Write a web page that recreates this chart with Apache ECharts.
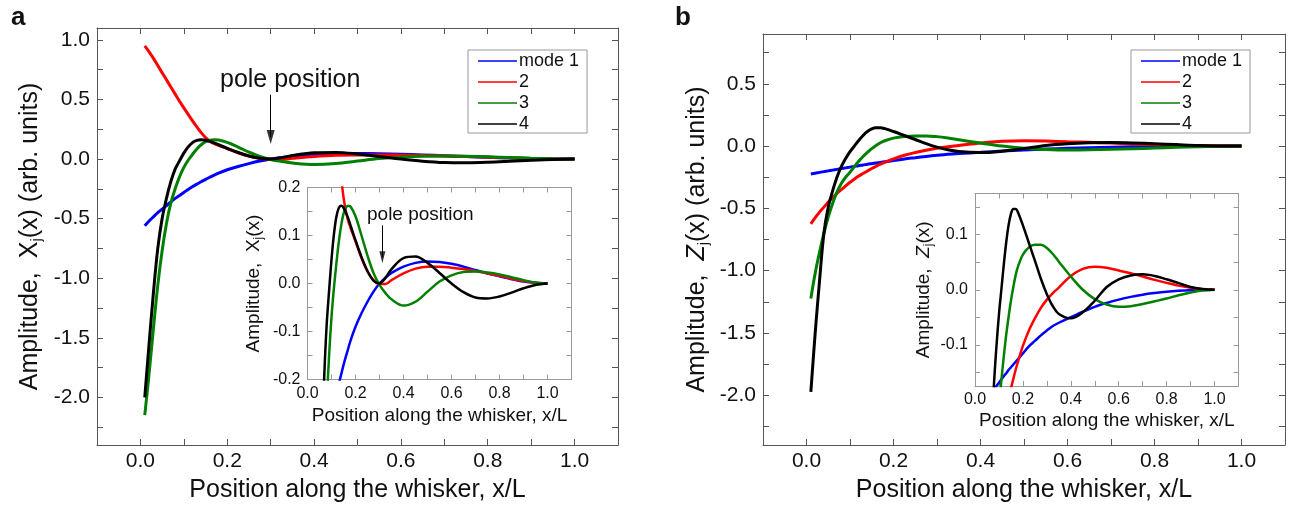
<!DOCTYPE html>
<html>
<head>
<meta charset="utf-8">
<script src="https://cdn.jsdelivr.net/npm/echarts@6/dist/echarts.min.js"></script>
<style>
html, body { margin: 0; padding: 0; background: #fff; }
#chart { width: 1290px; height: 508px; }
</style>
</head>
<body>
<div id="chart"></div>
<script>
// position along the whisker, x/L
var posX = [0.01, 0.02, 0.03, 0.04, 0.05, 0.06, 0.07, 0.08, 0.09, 0.10, 0.11, 0.12, 0.13, 0.14, 0.15, 0.16, 0.17, 0.18,
	0.20, 0.225, 0.25, 0.275, 0.30, 0.325, 0.35, 0.40, 0.45, 0.50, 0.55, 0.60, 0.65, 0.70, 0.75, 0.80, 0.85, 0.90, 0.95, 1.00];

// panel a : X_j(x)
var ampX1 = [-0.56, -0.52, -0.485, -0.45, -0.42, -0.39, -0.36, -0.33, -0.305, -0.28, -0.255, -0.232, -0.21, -0.19, -0.17, -0.152, -0.135, -0.118,
	-0.09, -0.062, -0.038, -0.017, 0, 0.012, 0.022, 0.035, 0.043, 0.046, 0.045, 0.041, 0.035, 0.028, 0.021, 0.015, 0.009, 0.004, 0.001, 0];
var ampX2 = [0.95, 0.9, 0.845, 0.785, 0.725, 0.665, 0.605, 0.545, 0.485, 0.43, 0.375, 0.32, 0.27, 0.222, 0.18, 0.15, 0.13, 0.115,
	0.088, 0.053, 0.025, 0.007, -0.001, -0.001, 0.007, 0.021, 0.031, 0.035, 0.035, 0.033, 0.03, 0.026, 0.021, 0.016, 0.01, 0.005, 0.0015, 0];
var ampX3 = [-2.15, -1.8, -1.42, -1.06, -0.77, -0.54, -0.37, -0.25, -0.15, -0.07, -0.01, 0.04, 0.085, 0.12, 0.145, 0.158, 0.162, 0.16,
	0.14, 0.1, 0.058, 0.022, -0.003, -0.02, -0.033, -0.046, -0.038, -0.017, 0.004, 0.017, 0.024, 0.025, 0.023, 0.019, 0.013, 0.007, 0.002, 0];
var ampX4 = [-2.0, -1.55, -1.12, -0.75, -0.5, -0.33, -0.19, -0.085, -0.015, 0.05, 0.102, 0.138, 0.157, 0.162, 0.158, 0.148, 0.135, 0.12,
	0.09, 0.055, 0.026, 0.006, 0.0, 0.012, 0.03, 0.053, 0.056, 0.043, 0.022, 0.0, -0.018, -0.029, -0.031, -0.027, -0.019, -0.01, -0.003, 0];

// panel b : Z_j(x)
var ampZ1 = [-0.224, -0.218, -0.211, -0.205, -0.199, -0.193, -0.187, -0.181, -0.175, -0.169, -0.163, -0.157, -0.152, -0.146, -0.141, -0.136, -0.131, -0.126,
	-0.116, -0.103, -0.093, -0.083, -0.074, -0.066, -0.06, -0.05, -0.04, -0.031, -0.024, -0.018, -0.013, -0.009, -0.006, -0.0035, -0.0018, -0.0007, -0.0002, 0];
var ampZ2 = [-0.624, -0.575, -0.53, -0.49, -0.45, -0.415, -0.38, -0.35, -0.32, -0.29, -0.265, -0.24, -0.22, -0.2, -0.18, -0.162, -0.145, -0.13,
	-0.102, -0.074, -0.052, -0.033, -0.018, -0.006, 0.004, 0.025, 0.038, 0.042, 0.04, 0.035, 0.03, 0.024, 0.018, 0.0125, 0.0075, 0.0035, 0.001, 0];
var ampZ3 = [-1.224, -1.02, -0.85, -0.7, -0.57, -0.46, -0.37, -0.3, -0.25, -0.21, -0.165, -0.122, -0.083, -0.05, -0.02, 0.005, 0.027, 0.043,
	0.064, 0.077, 0.082, 0.082, 0.076, 0.065, 0.051, 0.024, 0.0, -0.017, -0.027, -0.031, -0.03, -0.026, -0.021, -0.016, -0.01, -0.005, -0.0015, 0];
var ampZ4 = [-1.973, -1.5, -1.08, -0.7, -0.49, -0.36, -0.25, -0.165, -0.1, -0.045, 0.0, 0.045, 0.085, 0.117, 0.138, 0.147, 0.147, 0.14,
	0.117, 0.085, 0.053, 0.02, -0.008, -0.03, -0.044, -0.052, -0.041, -0.02, 0.005, 0.019, 0.026, 0.028, 0.025, 0.019, 0.012, 0.005, 0.0015, 0];

var modeNames = ['mode 1', '2', '3', '4'];
var modeColors = ['#0000ff', '#ff0000', '#008000', '#000000'];

// ticks and tick labels
var tickX = [0, 0.1, 0.2, 0.3, 0.4, 0.5, 0.6, 0.7, 0.8, 0.9, 1.0];
var labelX = [0, 0.2, 0.4, 0.6, 0.8, 1.0];
var tickYa = [-2.25, -2, -1.75, -1.5, -1.25, -1, -0.75, -0.5, -0.25, 0, 0.25, 0.5, 0.75, 1.0];
var labelYa = [-2.0, -1.5, -1.0, -0.5, 0, 0.5, 1.0];
var tickYb = [-2.25, -2, -1.75, -1.5, -1.25, -1, -0.75, -0.5, -0.25, 0, 0.25, 0.5, 0.75];
var labelYb = [-2.0, -1.5, -1.0, -0.5, 0, 0.5];
var tickInsetY = [-0.15, -0.1, -0.05, 0, 0.05, 0.1, 0.15];
var labelInsetYa = [-0.2, -0.1, 0, 0.1, 0.2];
var labelInsetYb = [-0.1, 0, 0.1];

var FONT = '"Liberation Sans", Arial, sans-serif';

function fmt(v) { return v.toFixed(1); }

function xPair(grid, min, max, fs, len, col, name, nameFs, nameGap) {
	var base = {
		type: 'value', gridIndex: grid, min: min, max: max,
		splitLine: { show: false },
		axisLine: { show: true, onZero: false, lineStyle: { color: col, width: 1 } },
		axisTick: { show: true, inside: true, length: len, customValues: tickX, lineStyle: { color: col } }
	};
	var bottom = echarts.util.merge({
		position: 'bottom',
		axisLabel: { show: true, customValues: labelX, formatter: fmt, fontSize: fs, fontFamily: FONT, color: '#111', margin: 6 },
		name: name, nameLocation: 'middle', nameGap: nameGap,
		nameTextStyle: { fontSize: nameFs, fontFamily: FONT, color: '#111' }
	}, base, true);
	var top = echarts.util.merge({ position: 'top', axisLabel: { show: false } }, base, true);
	return [bottom, top];
}

function yPair(grid, min, max, ticks, labels, fs, len, col, name, rich, nameFs, nameGap) {
	var base = {
		type: 'value', gridIndex: grid, min: min, max: max,
		splitLine: { show: false },
		axisLine: { show: true, onZero: false, lineStyle: { color: col, width: 1 } },
		axisTick: { show: true, inside: true, length: len, customValues: ticks, lineStyle: { color: col } }
	};
	var left = echarts.util.merge({
		position: 'left',
		axisLabel: { show: true, customValues: labels, formatter: fmt, fontSize: fs, fontFamily: FONT, color: '#111', margin: 7 },
		name: name, nameLocation: 'middle', nameGap: nameGap, nameRotate: 90,
		nameTextStyle: { fontSize: nameFs, fontFamily: FONT, color: '#111', lineHeight: nameFs + 3, rich: rich }
	}, base, true);
	var right = echarts.util.merge({ position: 'right', axisLabel: { show: false } }, base, true);
	return [left, right];
}

function subRich(fs, sub) {
	return {
		n: { fontSize: fs, fontFamily: FONT, color: '#111', lineHeight: fs + 3 },
		it: { fontSize: fs, fontFamily: FONT, fontStyle: 'italic', color: '#111', lineHeight: fs + 3 },
		sub: { fontSize: sub, fontFamily: FONT, color: '#111', lineHeight: sub - 2, verticalAlign: 'bottom' }
	};
}

function modeSeries(grid, sets, width) {
	return sets.map(function(ys, k) {
		return {
			name: modeNames[k], type: 'line', xAxisIndex: grid * 2, yAxisIndex: grid * 2,
			data: posX.map(function(x, i) { return [x, ys[i]]; }),
			symbol: 'none', smooth: 0.35, clip: true, silent: true,
			lineStyle: { color: modeColors[k], width: width },
			itemStyle: { color: modeColors[k] },
			emphasis: { disabled: true },
			z: 3 + k
		};
	});
}

// "pole position" arrow: shaft as a markLine, head as a single scatter mark
function arrowSeries(grid, x, yStart, yHead, head) {
	return [{
		type: 'line', xAxisIndex: grid * 2, yAxisIndex: grid * 2, data: [], silent: true,
		markLine: {
			silent: true, animation: false,
			symbol: ['none', 'none'],
			label: { show: false },
			lineStyle: { color: '#000', width: 1, type: 'solid' },
			emphasis: { disabled: true },
			data: [[{ coord: [x, yStart] }, { coord: [x, yHead] }]]
		}
	}, {
		type: 'scatter', xAxisIndex: grid * 2, yAxisIndex: grid * 2, silent: true,
		data: [[x, yHead]],
		symbol: 'path://M0,0 L10,0 L5,18 Z', symbolSize: head, symbolKeepAspect: false,
		itemStyle: { color: '#000' }, emphasis: { disabled: true }, z: 10
	}];
}

function legendBox(left) {
	return {
		data: modeNames, orient: 'vertical', left: left, top: 50,
		icon: 'rect', itemWidth: 39, itemHeight: 1.6, itemGap: 3,
		padding: [2, 8, 0, 10],
		borderColor: '#999', borderWidth: 1, backgroundColor: '#fff',
		selectedMode: false,
		textStyle: { fontSize: 18, lineHeight: 15, fontFamily: FONT, color: '#111', padding: [0, 0, 0, -3] }
	};
}

var myChart = echarts.init(document.getElementById('chart'));

var xAxes = [].concat(
	xPair(0, -0.1, 1.1, 21, 6, '#555', 'Position along the whisker, x/L', 25, 33),
	xPair(1, 0, 1.1, 16, 5, '#999', 'Position along the whisker, x/L', 19, 27),
	xPair(2, -0.1, 1.1, 21, 6, '#555', 'Position along the whisker, x/L', 25, 33),
	xPair(3, 0, 1.1, 16, 5, '#999', 'Position along the whisker, x/L', 19, 25)
);
var yAxes = [].concat(
	yPair(0, -2.4, 1.1, tickYa, labelYa, 21, 6, '#555', '{n|Amplitude,  X}{sub|j}{n|(x) (arb. units)}', subRich(25, 15), 25, 53),
	yPair(1, -0.2, 0.2, tickInsetY, labelInsetYa, 16, 5, '#999', '{n|Amplitude,  X}{sub|j}{n|(x)}', subRich(19, 12), 19, 43),
	yPair(2, -2.4, 0.9, tickYb, labelYb, 21, 6, '#555', '{n|Amplitude,  }{it|Z}{sub|j}{n|(x) (arb. units)}', subRich(25, 15), 25, 52),
	yPair(3, -0.175, 0.175, tickInsetY, labelInsetYb, 16, 5, '#999', '{n|Amplitude,  }{it|Z}{sub|j}{n|(x)}', subRich(19, 12), 19, 40)
);

var option = {
	animation: false,
	backgroundColor: '#fff',
	grid: [
		{ left: 97, top: 28, width: 521, height: 418, containLabel: false },
		{ left: 307.5, top: 187.5, width: 264, height: 192, containLabel: false, show: true, backgroundColor: '#fff', borderWidth: 0 },
		{ left: 763, top: 34, width: 522, height: 418, containLabel: false },
		{ left: 975, top: 193.5, width: 263.5, height: 192.5, containLabel: false, show: true, backgroundColor: '#fff', borderWidth: 0 }
	],
	xAxis: xAxes,
	yAxis: yAxes,
	legend: [legendBox(468), legendBox(1131)],
	graphic: [
		{ type: 'text', x: 11, y: 18, style: { text: 'a', fontSize: 26, fontWeight: 'bold', fontFamily: FONT, fill: '#111', verticalAlign: 'middle' } },
		{ type: 'text', x: 675, y: 18, style: { text: 'b', fontSize: 26, fontWeight: 'bold', fontFamily: FONT, fill: '#111', verticalAlign: 'middle' } },
		{ type: 'text', x: 220, y: 80, style: { text: 'pole position', fontSize: 25, fontFamily: FONT, fill: '#111', verticalAlign: 'middle' } },
		{ type: 'text', x: 367, y: 215, style: { text: 'pole position', fontSize: 19, fontFamily: FONT, fill: '#111', verticalAlign: 'middle' } }
	],
	series: [].concat(
		modeSeries(0, [ampX1, ampX2, ampX3, ampX4], 3),
		modeSeries(1, [ampX1, ampX2, ampX3, ampX4], 2.5),
		modeSeries(2, [ampZ1, ampZ2, ampZ3, ampZ4], 3),
		modeSeries(3, [ampZ1, ampZ2, ampZ3, ampZ4], 2.5),
		arrowSeries(0, 0.3, 0.54, 0.185, [8, 14]),
		arrowSeries(1, 0.312, 0.121, 0.0545, [6, 12])
	)
};
myChart.setOption(option);
</script>
</body>
</html>
